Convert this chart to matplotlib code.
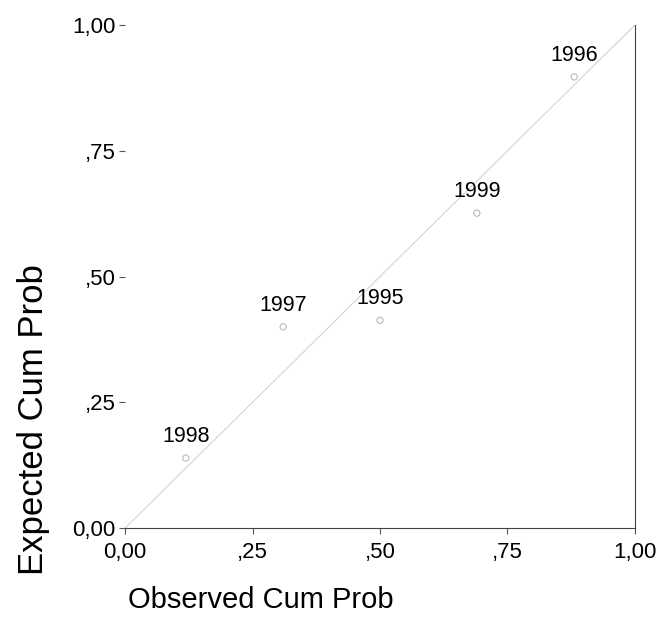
import matplotlib
matplotlib.use("Agg")
import matplotlib.pyplot as plt

plt.rcParams['font.family'] = ['Liberation Sans', 'DejaVu Sans']

years = ["1998", "1997", "1995", "1999", "1996"]
observed = [0.119, 0.310, 0.500, 0.690, 0.881]
expected = [0.139, 0.400, 0.413, 0.626, 0.897]
tick_vals = [0.0, 0.25, 0.5, 0.75, 1.0]
tick_labels = ["0,00", ",25", ",50", ",75", "1,00"]

fig = plt.figure(figsize=(6.62, 6.35), dpi=100)
ax = fig.add_axes([0.189, 0.1685, 0.770, 0.792])

# reference diagonal
ax.plot([0, 1], [0, 1], color="#d4d4d4", lw=0.8, zorder=1)
ax.scatter(observed, expected, s=20, facecolors="none", edgecolors="#b8b8b8",
           linewidths=0.8, zorder=2)
for yr, x, y in zip(years, observed, expected):
    ax.annotate(yr, (x, y), xytext=(0, 8), textcoords="offset points",
                ha="center", va="bottom", fontsize=15.5)

ax.set_xlim(0, 1)
ax.set_ylim(0, 1)
ax.set_xticks(tick_vals)
ax.set_xticklabels(tick_labels)
ax.set_yticks(tick_vals)
ax.set_yticklabels(tick_labels)
ax.tick_params(labelsize=16, length=4, width=0.8, color="#555555", pad=3)
ax.tick_params(axis="x", pad=6)
ax.spines["top"].set_visible(False)
ax.spines["left"].set_visible(False)
ax.spines["right"].set_color("#444444")
ax.spines["bottom"].set_color("#444444")

fig.text(0.394, 0.055, "Observed Cum Prob", ha="center", va="center", fontsize=21)
fig.text(0.050, 0.339, "Expected Cum Prob", ha="center", va="center",
         rotation=90, fontsize=25)

fig.savefig("out.png", dpi=100)
